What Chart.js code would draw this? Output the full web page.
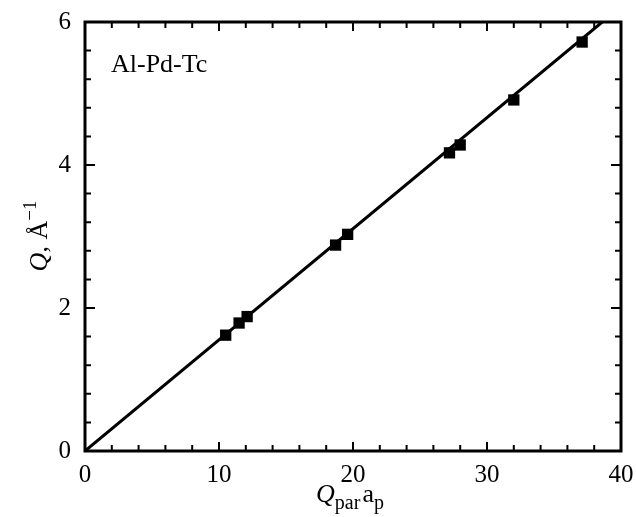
<!DOCTYPE html>
<html>
<head>
<meta charset="utf-8">
<script src="https://cdn.jsdelivr.net/npm/chart.js@4.4.1/dist/chart.umd.min.js"></script>
<style>
    html, body { margin: 0; padding: 0; background: #fff; }
    #wrap { width: 636px; height: 517px; }
</style>
</head>
<body>
<div id="wrap"><canvas id="myChart"></canvas></div>
<script>
// measured points (Q_par * a_p, Q)
const qparAp = [10.5, 11.5, 12.1, 18.7, 19.6, 27.2, 28.0, 32.0, 37.1];
const qValues = [1.62, 1.79, 1.88, 2.88, 3.03, 4.17, 4.28, 4.91, 5.72];

// fitted line end points
const fitX = [0, 38.6];
const fitY = [0, 6];

const sampleLabel = 'Al-Pd-Tc';
const serif = '"Liberation Serif", "DejaVu Serif", serif';

function isMajor(v, step) {
    return Math.abs(v / step - Math.round(v / step)) < 1e-6;
}

// draws text pieces one after another, centred on x
function drawRuns(ctx, runs, x, y) {
    let total = 0;
    runs.forEach(r => { ctx.font = r.font; total += ctx.measureText(r.t).width + (r.gap || 0); });
    let cx = x - total / 2;
    runs.forEach(r => {
        ctx.font = r.font;
        ctx.fillText(r.t, cx, y + (r.dy || 0));
        cx += ctx.measureText(r.t).width + (r.gap || 0);
    });
}

const framePlugin = {
    id: 'frame',
    afterDraw(chart) {
        const ctx = chart.ctx;
        const a = chart.chartArea;
        const xs = chart.scales.x, ys = chart.scales.y;
        ctx.save();
        ctx.strokeStyle = '#000';
        ctx.lineWidth = 2;
        ctx.beginPath();
        xs.ticks.forEach(t => {
            const px = xs.getPixelForValue(t.value);
            const len = isMajor(t.value, 10) ? 9 : 6;
            ctx.moveTo(px, a.bottom); ctx.lineTo(px, a.bottom - len);
            ctx.moveTo(px, a.top); ctx.lineTo(px, a.top + len);
        });
        ys.ticks.forEach(t => {
            const py = ys.getPixelForValue(t.value);
            const len = isMajor(t.value, 2) ? 10 : 6;
            ctx.moveTo(a.left, py); ctx.lineTo(a.left + len, py);
            ctx.moveTo(a.right, py); ctx.lineTo(a.right - len, py);
        });
        ctx.stroke();
        ctx.lineWidth = 3;
        ctx.strokeRect(a.left, a.top, a.right - a.left, a.bottom - a.top);

        ctx.fillStyle = '#000';
        ctx.textBaseline = 'alphabetic';
        ctx.textAlign = 'left';
        ctx.font = '26px ' + serif;
        ctx.fillText(sampleLabel, 111, 72);

        // x title
        drawRuns(ctx, [
            {t: 'Q', font: 'italic 26px ' + serif},
            {t: 'par', font: '20px ' + serif, dy: 7, gap: 2},
            {t: 'a', font: '26px ' + serif},
            {t: 'p', font: '20px ' + serif, dy: 7}
        ], 350, 502);

        // y title
        ctx.translate(47, 236);
        ctx.rotate(-Math.PI / 2);
        drawRuns(ctx, [
            {t: 'Q', font: 'italic 26px ' + serif},
            {t: ', Å', font: '26px ' + serif},
            {t: '−1', font: '19px ' + serif, dy: -11}
        ], 0, 0);
        ctx.restore();
    }
};

const data = {
    datasets: [
        {
            type: 'scatter',
            data: qparAp.map((x, i) => ({x: x, y: qValues[i]})),
            pointStyle: 'rect',
            pointRadius: 8,
            backgroundColor: '#000',
            borderColor: '#000',
            borderWidth: 0
        },
        {
            type: 'line',
            data: fitX.map((x, i) => ({x: x, y: fitY[i]})),
            borderColor: '#000',
            borderWidth: 3,
            pointRadius: 0,
            fill: false
        }
    ]
};

const options = {
    responsive: true,
    maintainAspectRatio: false,
    animation: false,
    layout: { padding: { top: 22, right: 15, left: 0, bottom: 0 } },
    plugins: { legend: { display: false }, tooltip: { enabled: false } },
    scales: {
        x: {
            type: 'linear',
            min: 0, max: 40,
            grid: { display: false },
            border: { display: false },
            afterFit: s => { s.height = 66; },
            ticks: {
                stepSize: 2,
                autoSkip: false,
                maxRotation: 0,
                padding: 1,
                color: '#000',
                font: { family: serif, size: 25 },
                callback: v => isMajor(v, 10) ? String(v) : ''
            }
        },
        y: {
            type: 'linear',
            min: 0, max: 6,
            grid: { display: false },
            border: { display: false },
            afterFit: s => { s.width = 85; },
            ticks: {
                stepSize: 0.4,
                autoSkip: false,
                padding: 6,
                color: '#000',
                font: { family: serif, size: 25 },
                callback: v => isMajor(v, 2) ? String(Math.round(v)) : ''
            }
        }
    }
};

new Chart(document.getElementById('myChart'), {
    data: data,
    options: options,
    plugins: [framePlugin]
});
</script>
</body>
</html>
